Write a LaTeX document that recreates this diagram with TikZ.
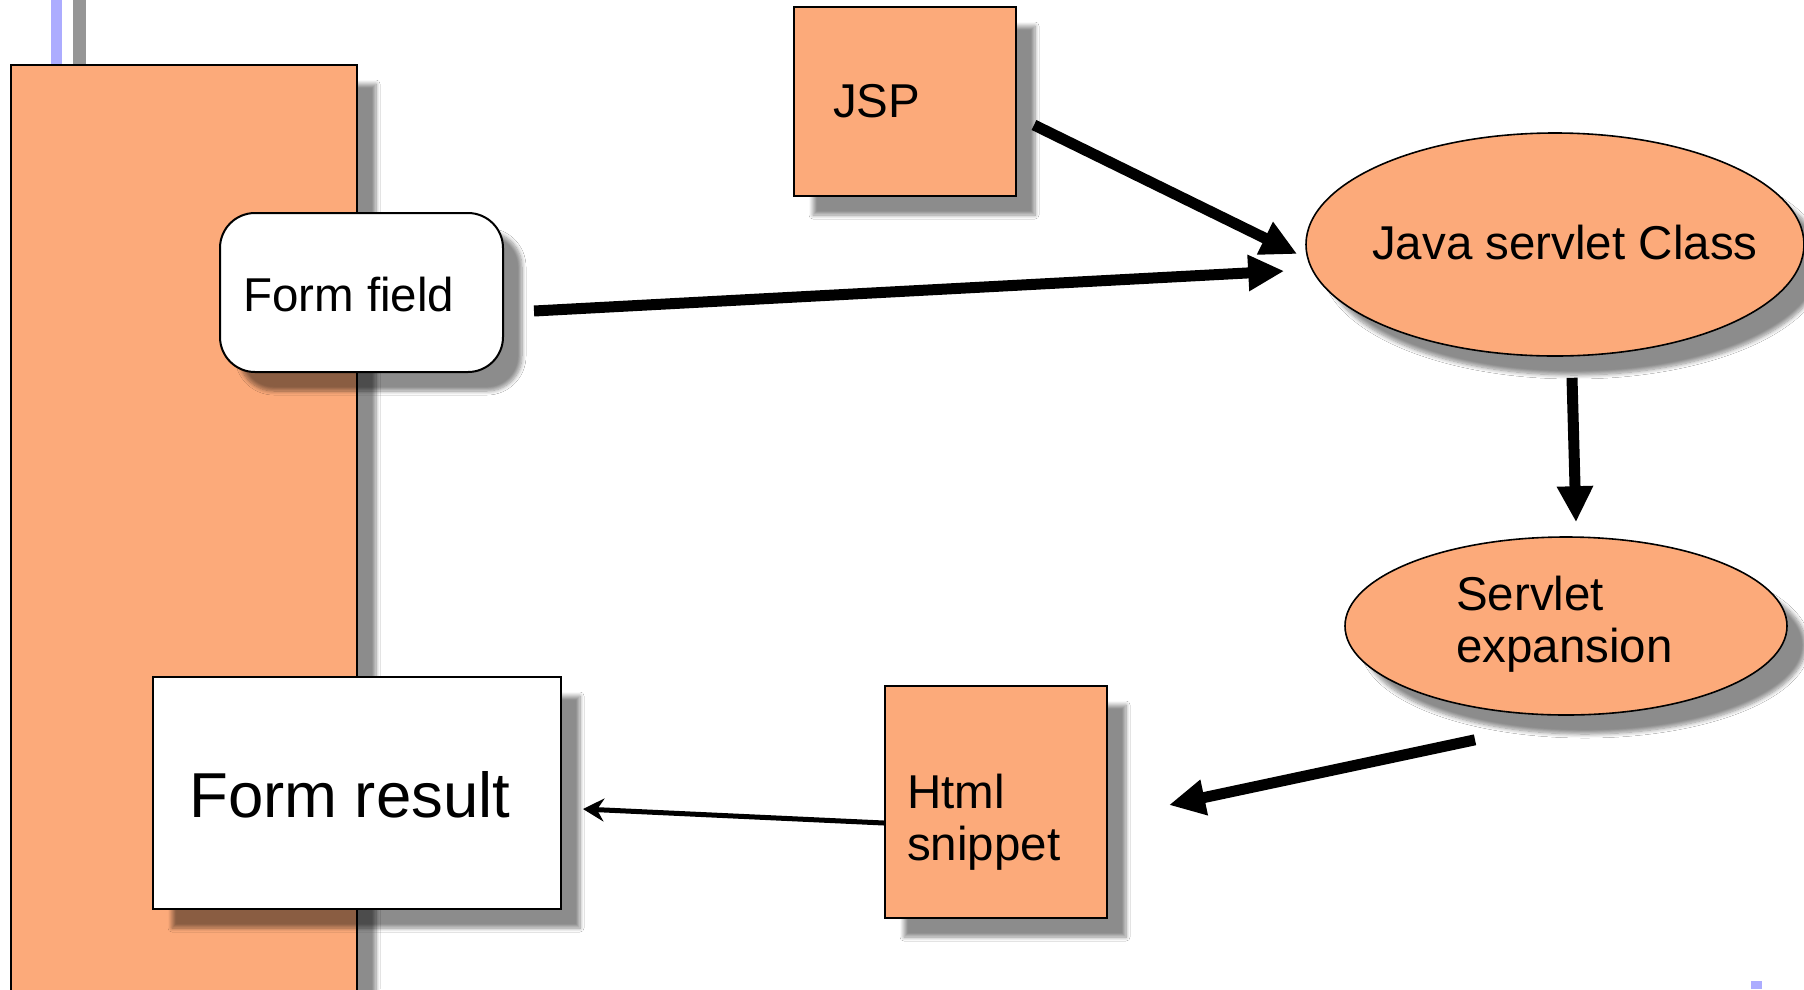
\documentclass[tikz,border=0pt]{standalone}
\usepackage{fontspec}
\setmainfont{Liberation Sans}
\usetikzlibrary{shapes.geometric,shadows,shadows.blur,arrows.meta}
\definecolor{boxorange}{RGB}{252,170,122}
\definecolor{shadowgray}{RGB}{150,150,150}
\definecolor{barblue}{RGB}{172,172,255}
\begin{document}
\begin{tikzpicture}[x=1pt,y=-1pt,
  shadowed/.style={blur shadow={shadow xshift=19pt,shadow yshift=-19pt,shadow blur radius=4pt,shadow blur steps=8,shadow opacity=45}},
  boxshape/.style={draw=black,line width=2pt,fill=boxorange,inner sep=0pt,shadowed},
  whitebox/.style={draw=black,line width=2pt,fill=white,inner sep=0pt,shadowed},
  ovalshape/.style={ellipse,draw=black,line width=1.6pt,fill=boxorange,inner sep=0pt,shadowed},
  lbl/.style={anchor=base west,inner sep=0pt,font=\fontsize{47.5}{52}\selectfont},
  biglbl/.style={anchor=base west,inner sep=0pt,font=\fontsize{63.5}{70}\selectfont},
  bigarrow/.style={line width=11pt,-{Triangle[length=36pt,width=34pt]}},
  thinarrow/.style={line width=5pt,-{Stealth[length=21pt,width=23pt,inset=7pt]}}
]
\useasboundingbox (0,0) rectangle (1804,989);
\clip (0,0) rectangle (1804,989);
\fill[white] (0,0) rectangle (1804,989);

% decorative bars
\fill[barblue] (51,0) rectangle (62,66);
\fill[shadowgray] (73,0) rectangle (86,66);
\fill[barblue] (1751,981) rectangle (1762,989);

% page background box
\node[boxshape,minimum width=346pt,minimum height=960pt] (page) at (184,545) {};

% shapes
\node[boxshape,minimum width=222pt,minimum height=189pt] (jsp) at (905,101.5) {};
\node[ovalshape,minimum width=498pt,minimum height=223pt] (java) at (1555,244.5) {};
\node[ovalshape,minimum width=442pt,minimum height=178pt] (servexp) at (1566,626) {};
\node[boxshape,minimum width=222pt,minimum height=232pt] (html) at (996,802) {};
\node[whitebox,rounded corners=35pt,minimum width=283pt,minimum height=159pt] (field) at (361.5,292.5) {};
\node[whitebox,minimum width=408pt,minimum height=232pt] (result) at (357,793) {};

% labels
\node[lbl] (jsptxt) at (833,117) {JSP};
\node[lbl] (fieldtxt) at (243,311) {Form field};
\node[lbl] (javatxt) at (1372,259) {Java servlet Class};
\node[lbl] (servtxt) at (1456,610) {\begin{tabular}[t]{@{}l@{}}Servlet\\expansion\end{tabular}};
\node[lbl] (htmltxt) at (907,808) {\begin{tabular}[t]{@{}l@{}}Html\\snippet\end{tabular}};
\node[biglbl] (resulttxt) at (189,817) {Form result};

% connectors
\draw[bigarrow] ([shift={(17,23.5)}]jsp.east) -- ([shift={(-8,9.5)}]java.west);
\draw[bigarrow] ([shift={(30,18.5)}]field.east) -- ([shift={(-21,26.5)}]java.west);
\draw[bigarrow] ([shift={(17,21)}]java.south) -- ([shift={(10,-14)}]servexp.north);
\draw[bigarrow] ([shift={(-91,24)}]servexp.south) -- ([shift={(61,3)}]html.east);
\draw[thinarrow] ([shift={(0,21)}]html.west) -- ([shift={(21,16)}]result.east);
\end{tikzpicture}
\end{document}
